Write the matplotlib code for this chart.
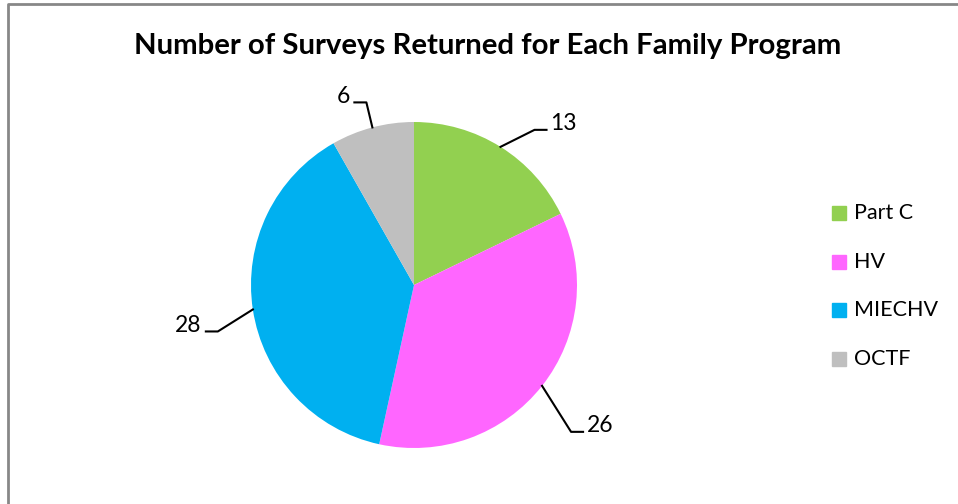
import numpy as np
import matplotlib.pyplot as plt
from matplotlib.patches import Rectangle

# dados do grafico
programas = ['Part C', 'HV', 'MIECHV', 'OCTF']
surveys = [13, 26, 28, 6]
cores = ['#92D050', '#FF66FF', '#00B0F0', '#BFBFBF']
titulo = 'Number of Surveys Returned for Each Family Program'

plt.rcParams['font.family'] = ['Lato', 'DejaVu Sans']

W, H = 958, 504
fig = plt.figure(figsize=(W / 100, H / 100), dpi=100)
ax = fig.add_axes([0, 0, 1, 1])

# moldura
ax.plot([8, 8, W + 5], [-5, H - 4, H - 4], color='#878787', lw=2, solid_capstyle='butt')

cx, cy, R = 414, H - 285, 163
wedges, _ = ax.pie(surveys, colors=cores, startangle=90, counterclock=False,
                   center=(cx, cy), radius=R, frame=True)
ax.set_xlim(0, W)
ax.set_ylim(0, H)
ax.axis('off')

# rotulos com linhas de chamada (deslocamento do cotovelo, lado)
desloc = {0: (34, 17, 1), 1: (29, -46, 1), 2: (-35, -22, -1), 3: (-6, 25, -1)}
total = float(sum(surveys))
acum = 0.0
for i, v in enumerate(surveys):
    meio = (acum + v / 2) / total * 2 * np.pi
    acum += v
    ax0 = cx + R * np.sin(meio)
    ay0 = cy + R * np.cos(meio)
    dx, dy, lado = desloc[i]
    ex, ey = ax0 + dx, ay0 + dy
    hx = ex + 12 * lado
    ax.plot([ax0, ex, hx], [ay0, ey, ey], color='black', lw=1.5)
    ax.text(hx + 4 * lado, ey + 6, str(v), fontsize=16.5,
            ha='left' if lado > 0 else 'right', va='center')

ax.text(488, H - 46, titulo, fontsize=21.2, fontweight='bold', ha='center', va='center')

# legenda
for i, (nome, c) in enumerate(zip(programas, cores)):
    yy = H - 213 - i * 48.7
    ax.add_patch(Rectangle((832, yy - 7), 14, 14, color=c))
    ax.text(854, yy, nome, fontsize=15.5, ha='left', va='center')

plt.savefig('out.png', dpi=100)
